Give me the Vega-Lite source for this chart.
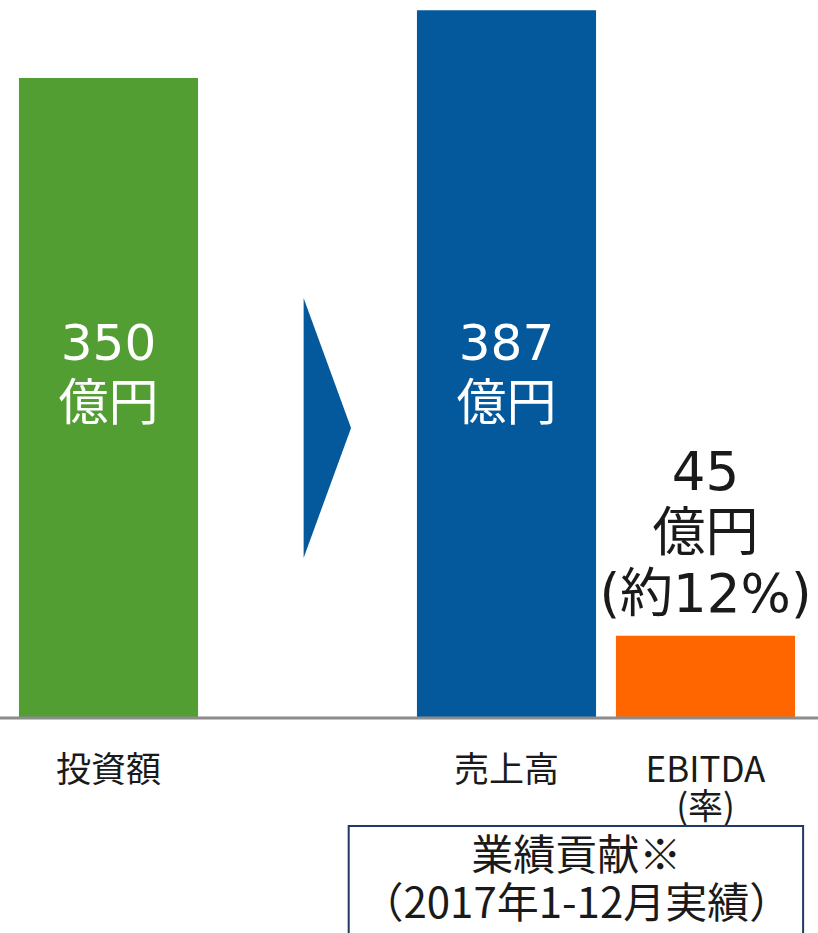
{
  "$schema": "https://vega.github.io/schema/vega-lite/v6.json",
  "width": 818,
  "height": 718,
  "autosize": {"type": "none"},
  "padding": {"left": 0, "top": 0, "right": 0, "bottom": 215},
  "background": "white",
  "config": {"view": {"stroke": null}, "font": "Noto Sans CJK JP"},
  "data": {
    "values": [
      {"category": "投資額", "value": 350, "label": "350\n億円"},
      {"category": "売上高", "value": 387, "label": "387\n億円"},
      {"category": "EBITDA", "value": 45, "label": "45\n億円\n(約12%)"}
    ]
  },
  "encoding": {
    "x": {
      "field": "category",
      "type": "nominal",
      "sort": null,
      "scale": {"domain": ["投資額", "→", "売上高", "EBITDA"], "range": [9, 805], "paddingInner": 0.1, "paddingOuter": 0.05},
      "axis": {
        "title": null,
        "domain": false,
        "ticks": false,
        "labelAngle": 0,
        "labelFont": "Noto Sans CJK JP",
        "labelFontSize": 35,
        "labelColor": "#1a1a1a",
        "labelBaseline": "middle",
        "labelPadding": 52,
        "labelLineHeight": 37,
        "labelExpr": "datum.value == 'EBITDA' ? ['EBITDA', '(率)'] : (datum.value == '→' ? '' : datum.label)"
      }
    }
  },
  "layer": [
    {
      "mark": {"type": "bar"},
      "encoding": {
        "y": {"field": "value", "type": "quantitative", "scale": {"domain": [0, 392.6], "nice": false, "zero": true}, "axis": null},
        "color": {"field": "category", "type": "nominal", "scale": {"domain": ["投資額", "売上高", "EBITDA"], "range": ["#529E32", "#03599C", "#FF6600"]}, "legend": null}
      }
    },
    {
      "mark": {"type": "rule", "color": "#8C8C8C", "strokeWidth": 3},
      "data": {"values": [{}]},
      "encoding": {"y": {"datum": 0, "type": "quantitative"}, "x": null}
    },
    {
      "mark": {"type": "point", "shape": "M -0.03 -1 L 0.335 0 L -0.03 1 Z", "size": 67600, "filled": true, "opacity": 1, "color": "#03599C", "strokeWidth": 0},
      "data": {"values": [{}]},
      "encoding": {"x": {"datum": "→"}, "y": {"datum": 158.6, "type": "quantitative"}}
    },
    {
      "transform": [{"filter": "datum.category != 'EBITDA'"}],
      "mark": {"type": "text", "font": "DejaVu Sans, Noto Sans CJK JP", "fontSize": 50, "color": "white", "lineBreak": "\n", "lineHeight": 60, "baseline": "middle", "align": "center"},
      "encoding": {"y": {"datum": 204, "type": "quantitative"}, "text": {"field": "label"}}
    },
    {
      "transform": [{"filter": "datum.category == 'EBITDA'"}],
      "mark": {"type": "text", "font": "DejaVu Sans, Noto Sans CJK JP", "fontSize": 53, "color": "#1a1a1a", "lineBreak": "\n", "lineHeight": 61, "baseline": "middle", "align": "center", "dy": -162},
      "encoding": {"y": {"field": "value", "type": "quantitative"}, "text": {"field": "label"}}
    },
    {
      "mark": {"type": "rect", "fill": null, "fillOpacity": 0, "stroke": "#1F3864", "strokeWidth": 2},
      "data": {"values": [{}]},
      "encoding": {
        "x": {"datum": "→", "bandPosition": 0.73},
        "x2": {"datum": "EBITDA", "bandPosition": 1.045},
        "y": {"datum": -59, "type": "quantitative"},
        "y2": {"datum": -125}
      }
    },
    {
      "mark": {"type": "text", "font": "Noto Sans CJK JP", "fontSize": 42, "color": "#1a1a1a", "lineBreak": "\n", "lineHeight": 48, "baseline": "middle", "align": "center"},
      "data": {"values": [{"note": "業績貢献※\n（2017年1-12月実績）"}]},
      "encoding": {
        "x": {"datum": "売上高", "bandPosition": 0.89},
        "y": {"datum": -76, "type": "quantitative"},
        "text": {"field": "note"}
      }
    }
  ]
}
